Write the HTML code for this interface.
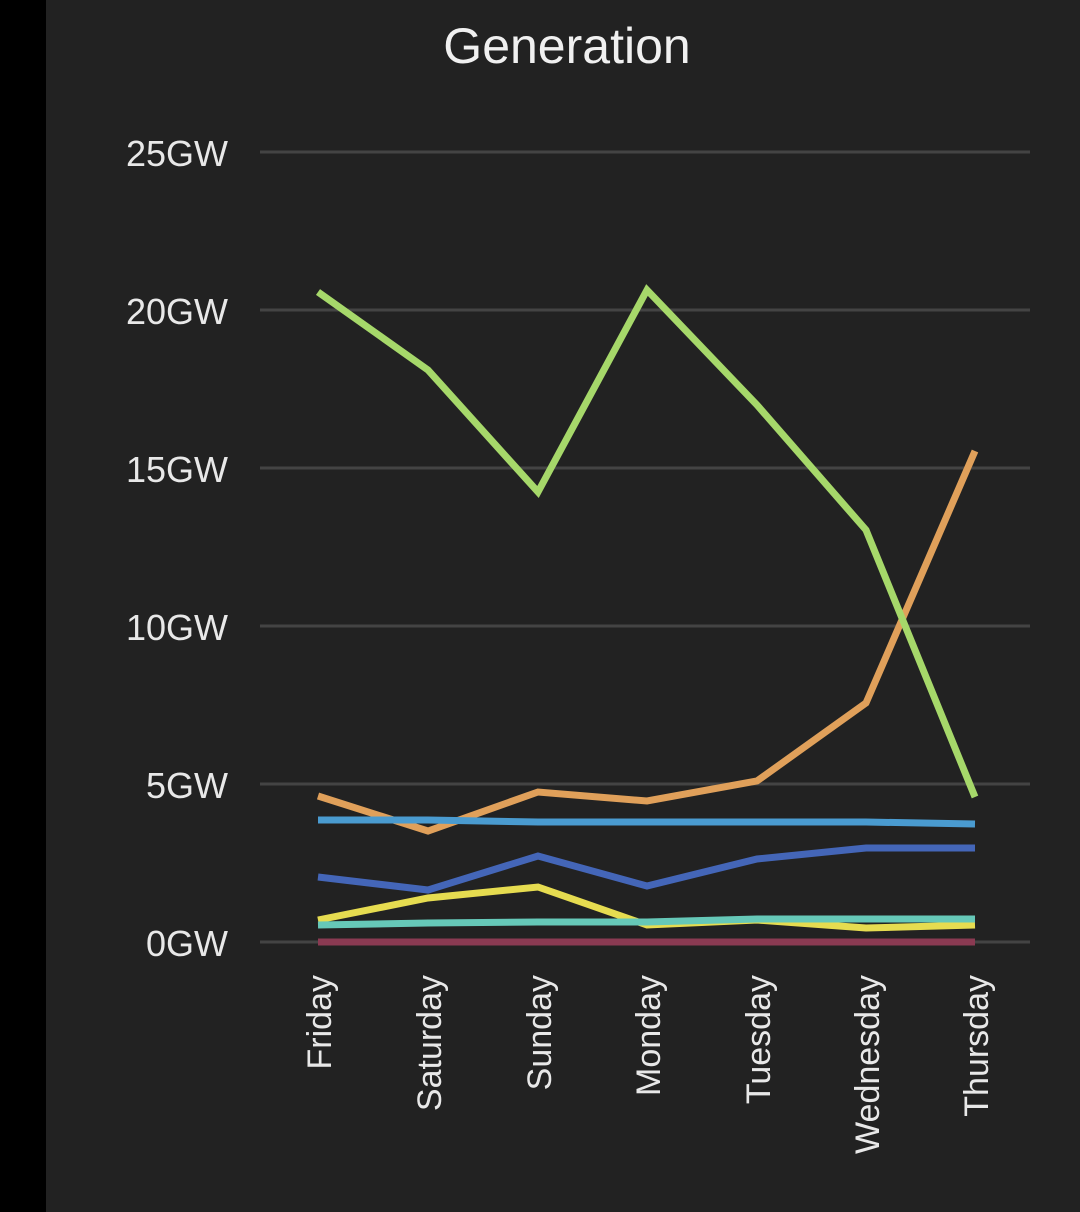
<!DOCTYPE html>
<html><head><style>
html,body{margin:0;padding:0;width:1080px;height:1212px;overflow:hidden;background:#000}
</style></head><body>
<svg width="1080" height="1212" xmlns="http://www.w3.org/2000/svg" style="display:block">
<rect x="0" y="0" width="1080" height="1212" fill="#000"/>
<rect x="46" y="0" width="1034" height="1212" fill="#222222"/>
<text x="567" y="63" fill="#f0f0f0" font-family="Liberation Sans, sans-serif" font-size="50" text-anchor="middle">Generation</text>
<g stroke="#444" stroke-width="3">
<line x1="260" y1="152" x2="1030" y2="152"/>
<line x1="260" y1="310" x2="1030" y2="310"/>
<line x1="260" y1="468" x2="1030" y2="468"/>
<line x1="260" y1="626" x2="1030" y2="626"/>
<line x1="260" y1="784" x2="1030" y2="784"/>
<line x1="260" y1="942" x2="1030" y2="942"/>
</g>
<g fill="#e8e8e8" font-family="Liberation Sans, sans-serif" font-size="36" text-anchor="end">
<text x="228" y="166">25GW</text>
<text x="228" y="324">20GW</text>
<text x="228" y="482">15GW</text>
<text x="228" y="640">10GW</text>
<text x="228" y="798">5GW</text>
<text x="228" y="956">0GW</text>
</g>
<g fill="#e8e8e8" font-family="Liberation Sans, sans-serif" font-size="34" text-anchor="end">
<text transform="translate(331,975) rotate(-90)">Friday</text>
<text transform="translate(441,975) rotate(-90)">Saturday</text>
<text transform="translate(551,975) rotate(-90)">Sunday</text>
<text transform="translate(660,975) rotate(-90)">Monday</text>
<text transform="translate(770,975) rotate(-90)">Tuesday</text>
<text transform="translate(879,975) rotate(-90)">Wednesday</text>
<text transform="translate(988,975) rotate(-90)">Thursday</text>
</g>
<g fill="none" stroke-width="7" stroke-linejoin="miter">
<polyline stroke="#8a3a52" points="318,942 428,942 538,942 647,942 757,942 866,942 975,942"/>
<polyline stroke="#e6dc50" points="318,920 428,898 538,887 647,925 757,920 866,928 975,925"/>
<polyline stroke="#66c8b8" points="318,925 428,923 538,922 647,922 757,919 866,919 975,919"/>
<polyline stroke="#4466b8" points="318,877 428,890 538,856 647,886 757,859 866,848 975,848"/>
<polyline stroke="#e0a05a" points="318,796 428,831 538,792 647,801 757,781 866,703 975,451"/>
<polyline stroke="#4a9bd0" points="318,820 428,820 538,822 647,822 757,822 866,822 975,824"/>
<polyline stroke="#a6d86a" points="318,292 428,370 538,492 647,290 757,405 866,530 975,797"/>
</g>
</svg>
</body></html>
